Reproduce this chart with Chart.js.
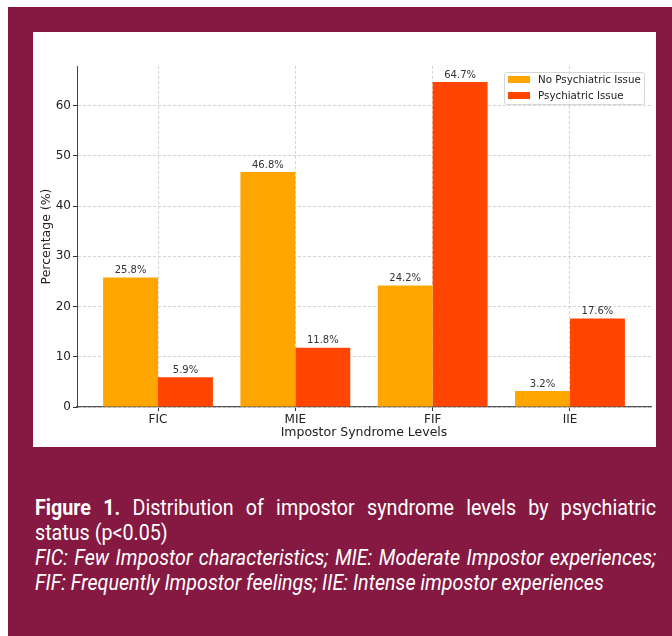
<!DOCTYPE html>
<html>
<head>
<meta charset="utf-8">
<script src="https://cdn.jsdelivr.net/npm/chart.js@4.4.0/dist/chart.umd.min.js"></script>
<style>
  html, body { margin: 0; padding: 0; background: #fff; }
  body { width: 672px; height: 636px; position: relative; overflow: hidden; }
  #frame { position: absolute; left: 8px; top: 7px; width: 664px; height: 629px; background: #861942; }
  #panel { position: absolute; left: 33px; top: 32px; width: 623px; height: 415px; background: #fff; }
  #caption { position: absolute; left: 35px; top: 495px; width: 694px; color: #fff;
    transform: scaleX(0.895); transform-origin: 0 0;
    font-family: Roboto, "Noto Sans", sans-serif;
    font-size: 22px; line-height: 25px; }
  #caption div { white-space: nowrap; }
  #caption .just { text-align: justify; text-align-last: justify; }
  #caption b { font-weight: 700; }
  #caption i { font-style: italic; }
</style>
</head>
<body>
<div id="frame"></div>
<div id="panel"><canvas id="myChart" width="623" height="415"></canvas></div>
<div id="caption">
  <div class="just"><b>Figure 1.</b> Distribution of impostor syndrome levels by psychiatric</div>
  <div>status (p&lt;0.05)</div>
  <div class="just"><i>FIC: Few Impostor characteristics; MIE: Moderate Impostor experiences;</i></div>
  <div><i>FIF: Frequently Impostor feelings; IIE: Intense impostor experiences</i></div>
</div>
<script>
var categories = ["FIC", "MIE", "FIF", "IIE"];
var noIssue = [25.8, 46.8, 24.2, 3.2];
var psychIssue = [5.9, 11.8, 64.7, 17.6];
var yTicks = [0, 10, 20, 30, 40, 50, 60];

Chart.defaults.font.family = "'DejaVu Sans', sans-serif";
Chart.defaults.color = "#222";

var ctx = document.getElementById("myChart").getContext('2d');

function toPoints(values) {
  return values.map(function(v, i) { return { x: i, y: v }; });
}

// value labels above the bars
var barLabels = {
  id: 'barLabels',
  afterDatasetsDraw: function(chart) {
    var c = chart.ctx;
    c.save();
    c.font = "10px 'DejaVu Sans'";
    c.fillStyle = "#333";
    c.textAlign = "center";
    c.textBaseline = "bottom";
    chart.data.datasets.forEach(function(ds, di) {
      chart.getDatasetMeta(di).data.forEach(function(bar, i) {
        c.fillText(ds.data[i].y.toFixed(1) + "%", bar.x, bar.y - 2);
      });
    });
    c.restore();
  }
};

// matplotlib style legend inside the plot, upper right
var boxLegend = {
  id: 'boxLegend',
  afterDraw: function(chart) {
    var c = chart.ctx;
    var area = chart.chartArea;
    var w = 140, h = 32;
    var x = area.right - 7 - w, y = area.top + 6;
    c.save();
    c.fillStyle = "rgba(255,255,255,0.8)";
    c.strokeStyle = "#d6d6d6";
    c.lineWidth = 1;
    c.beginPath();
    c.roundRect(x + 0.5, y + 0.5, w, h, 2);
    c.fill();
    c.stroke();
    c.font = "10.3px 'DejaVu Sans'";
    c.textBaseline = "middle";
    chart.data.datasets.forEach(function(ds, i) {
      var cy = y + 8 + i * 16;
      c.fillStyle = ds.backgroundColor;
      c.fillRect(x + 4, cy - 4, 22, 7);
      c.fillStyle = "#222";
      c.fillText(ds.label, x + 34, cy);
    });
    c.restore();
  }
};

var myChart = new Chart(ctx, {
  type: 'bar',
  data: {
    datasets: [{
      label: "No Psychiatric Issue",
      data: toPoints(noIssue),
      backgroundColor: "#FFA500",
      borderWidth: 0
    }, {
      label: "Psychiatric Issue",
      data: toPoints(psychIssue),
      backgroundColor: "#FF4500",
      borderWidth: 0
    }]
  },
  options: {
    responsive: false,
    animation: false,
    layout: { padding: { left: 0, top: 34, right: 5, bottom: 0 } },
    datasets: { bar: { barPercentage: 1.0, categoryPercentage: 0.8 } },
    plugins: {
      legend: { display: false },
      tooltip: { enabled: false }
    },
    scales: {
      x: {
        type: 'linear',
        min: -0.59,
        max: 3.59,
        offset: false,
        afterBuildTicks: function(scale) {
          scale.ticks = categories.map(function(c, i) { return { value: i }; });
        },
        afterFit: function(scale) { scale.height = 40; },
        ticks: {
          font: { size: 12 },
          color: "#222",
          padding: 2,
          maxRotation: 0,
          callback: function(v) { return categories[v]; }
        },
        grid: {
          offset: false,
          color: "#d4d4d4",
          tickLength: 4,
          tickColor: "#333",
          tickBorderDash: []
        },
        border: { display: true, color: "#555", width: 1.3, dash: [3, 2] },
        title: {
          display: true,
          text: "Impostor Syndrome Levels",
          font: { size: 12.5 },
          color: "#222",
          padding: { top: 0, bottom: 7 }
        }
      },
      y: {
        min: 0,
        max: 67.9,
        afterBuildTicks: function(scale) {
          scale.ticks = yTicks.map(function(v) { return { value: v }; });
        },
        afterFit: function(scale) { scale.width = 44; },
        ticks: {
          font: { size: 12 },
          color: "#222",
          padding: 2
        },
        grid: {
          color: "#d4d4d4",
          tickLength: 4,
          tickColor: "#333",
          tickBorderDash: []
        },
        border: { display: true, color: "#444", width: 1, dash: [3, 2] },
        title: {
          display: true,
          text: "Percentage (%)",
          font: { size: 12.5 },
          color: "#222",
          padding: { top: 6, bottom: 0 }
        }
      }
    }
  },
  plugins: [barLabels, boxLegend]
});
</script>
</body>
</html>
